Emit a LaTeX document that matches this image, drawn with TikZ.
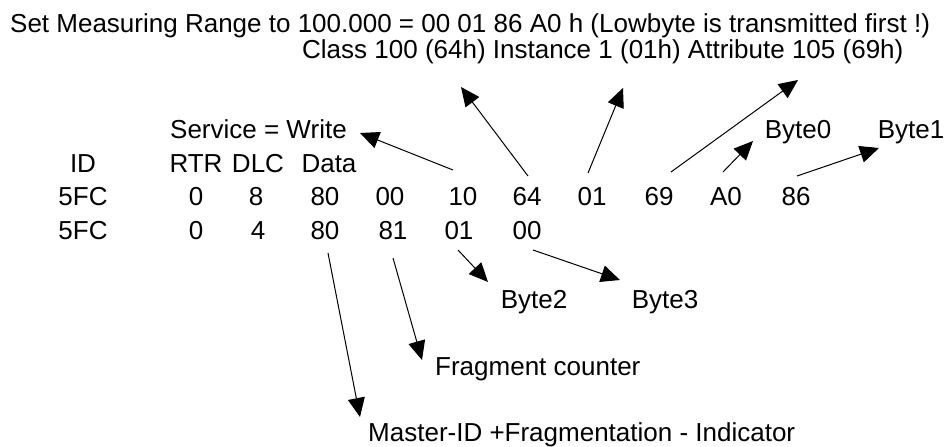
\documentclass[tikz,border=0pt]{standalone}
\usepackage{fontspec}
\setmainfont{Liberation Sans}
\usetikzlibrary{arrows.meta}
\begin{document}
\begin{tikzpicture}[x=1pt,y=-1pt,
  txt/.style={inner sep=0pt,font=\fontsize{26}{30}\selectfont,anchor=base},
  txtw/.style={txt,anchor=base west},
  arr/.style={line width=1pt,-{Triangle[length=19pt,width=17pt]}}]
\useasboundingbox[fill=white] (0,0) rectangle (946,447);
% titles
\node[txtw] (t1) at (10,32) {Set Measuring Range to 100.000 = 00 01 86 A0 h (Lowbyte is transmitted first !)};
\node[txtw] (t2) at (302,58) {Class 100 (64h) Instance 1 (01h) Attribute 105 (69h)};
\node[txtw] (srv) at (170,138) {Service = Write};
\node[txt] (b0) at (798,138) {Byte0};
\node[txt] (b1) at (911,138) {Byte1};
% header
\node[txt] (hid) at (83,172) {ID};
\node[txt] (hrtr) at (196,172) {RTR};
\node[txt] (hdlc) at (258,172) {DLC};
\node[txt] (hdata) at (329,172) {Data};
% row 1
\node[txt] (a1) at (83,205) {5FC};
\node[txt] (a2) at (196,205) {0};
\node[txt] (a3) at (256,205) {8};
\node[txt] (a4) at (325,205) {80};
\node[txt] (a5) at (390,205) {00};
\node[txt] (a6) at (463,205) {10};
\node[txt] (a7) at (527,205) {64};
\node[txt] (a8) at (592,205) {01};
\node[txt] (a9) at (659,205) {69};
\node[txt] (a10) at (726,205) {A0};
\node[txt] (a11) at (796,205) {86};
% row 2
\node[txt] (c1) at (83,239) {5FC};
\node[txt] (c2) at (196,239) {0};
\node[txt] (c3) at (258,239) {4};
\node[txt] (c4) at (325,239) {80};
\node[txt] (c5) at (393,239) {81};
\node[txt] (c6) at (459,239) {01};
\node[txt] (c7) at (527,239) {00};
% bottom labels
\node[txt] (b2) at (534,308) {Byte2};
\node[txt] (b3) at (665,308) {Byte3};
\node[txtw] (frag) at (435,375) {Fragment counter};
\node[txtw] (mid) at (368,441) {Master-ID +Fragmentation - Indicator};
% arrow end points
\coordinate (s6) at (453,170);  \coordinate (e6) at (360,133);
\coordinate (s7) at (528,176);  \coordinate (e7) at (461,87);
\coordinate (s8) at (588,173);  \coordinate (e8) at (623,88);
\coordinate (s9) at (671,172);  \coordinate (e9) at (798,80);
\coordinate (s10) at (723,172); \coordinate (e10) at (753,141);
\coordinate (s11) at (797,176); \coordinate (e11) at (879,148);
\coordinate (sc4) at (328,253); \coordinate (ec4) at (360,417);
\coordinate (sc5) at (393,258); \coordinate (ec5) at (422,360);
\coordinate (sc6) at (458,250); \coordinate (ec6) at (488,282);
\coordinate (sc7) at (533,250); \coordinate (ec7) at (620,280);
% arrows
\draw[arr] (s6) -- (e6);
\draw[arr] (s7) -- (e7);
\draw[arr] (s8) -- (e8);
\draw[arr] (s9) -- (e9);
\draw[arr] (s10) -- (e10);
\draw[arr] (s11) -- (e11);
\draw[arr] (sc4) -- (ec4);
\draw[arr] (sc5) -- (ec5);
\draw[arr] (sc6) -- (ec6);
\draw[arr] (sc7) -- (ec7);
\end{tikzpicture}
\end{document}
